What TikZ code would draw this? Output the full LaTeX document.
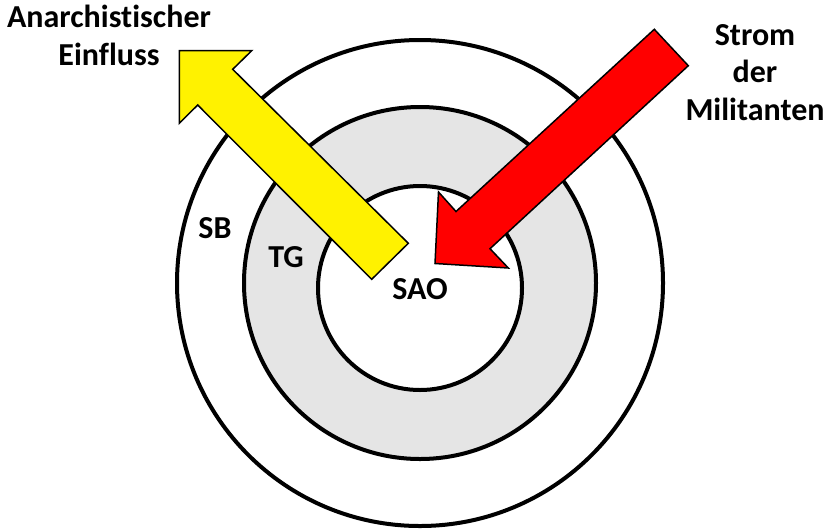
\documentclass[tikz,border=0pt]{standalone}
\usepackage{fontspec}
\setmainfont[Ligatures=NoCommon]{Carlito}

\begin{document}
\begin{tikzpicture}[x=1pt, y=-1pt,
    ring/.style={draw=black, line width=4pt},
    blockarrow/.style={draw=black, line width=1.5pt, line join=miter},
    lbl/.style={font=\bfseries\fontsize{32}{37.5}\selectfont, inner sep=0pt, align=center}]

    \useasboundingbox (0,0) rectangle (832,528);

    % Rings
    \filldraw[ring, fill=white] (420,283) circle[radius=243];
    \filldraw[ring, fill=black!10] (420,283) circle[radius=176];
    \filldraw[ring, fill=white] (420,288) circle[radius=102];

    % Outgoing influence (yellow)
    \filldraw[blockarrow, fill=yellow] (179.3,50.7) -- (251.7,50.7) -- (232.7,69.3)
        -- (408.3,243.3) -- (371.7,279.3) -- (197.7,105) -- (179.3,123.3) -- cycle;

    % Incoming militants (red)
    \filldraw[blockarrow, fill=red] (435,263.5) -- (438.5,192) -- (456,211.5)
        -- (654.3,29.3) -- (688.3,65.7) -- (490,248.7) -- (508.3,268) -- cycle;

    % Ring labels
    \node[lbl] (sb)  at (215,228) {SB};
    \node[lbl] (tg)  at (286,257) {TG};
    \node[lbl] (sao) at (420,289) {SAO};

    % Arrow labels (base = last line)
    \node[lbl, anchor=base] (infl)  at (109,65) {Anarchistischer\\Einfluss};
    \node[lbl, anchor=base] (strom) at (755,120) {Strom\\der\\Militanten};

\end{tikzpicture}
\end{document}
